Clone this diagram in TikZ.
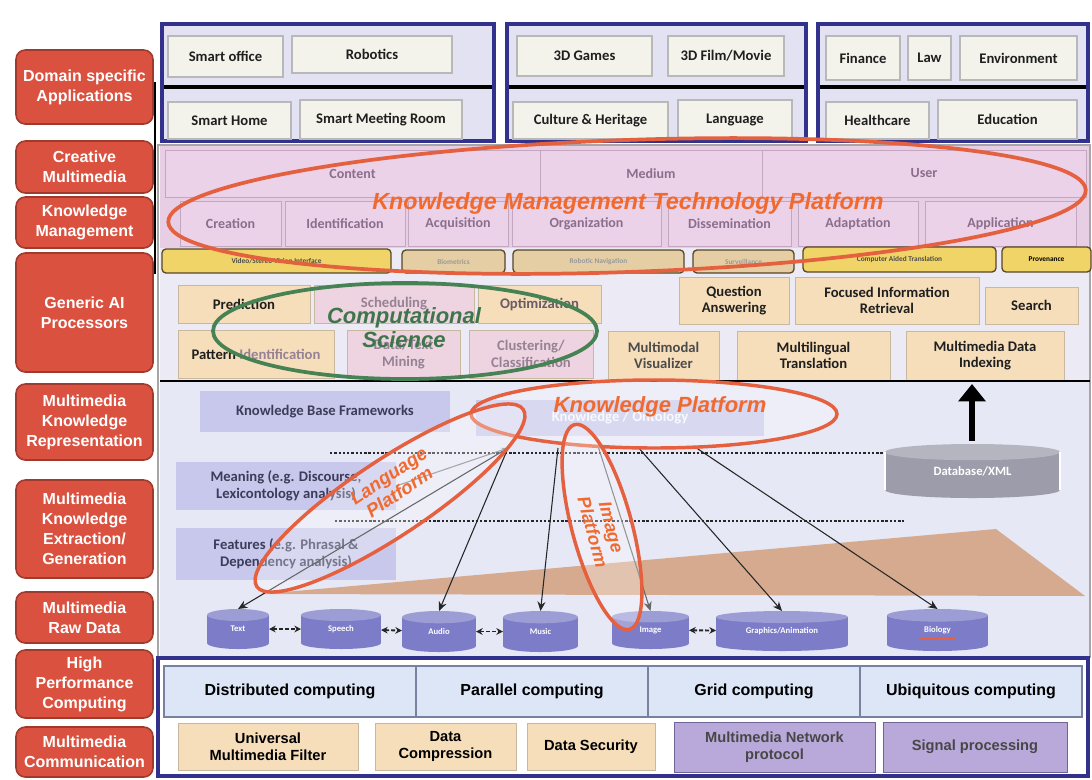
\documentclass[tikz,border=0pt]{standalone}
\usepackage{fontspec}
\setmainfont{Carlito}
\newfontfamily\arialf{Liberation Sans}
\usetikzlibrary{arrows.meta,calc}

\definecolor{labred}{RGB}{218,81,63}
\definecolor{labedge}{RGB}{160,58,44}
\definecolor{navy}{RGB}{50,50,140}
\definecolor{lav}{RGB}{226,226,242}
\definecolor{appfill}{RGB}{243,243,236}
\definecolor{appedge}{RGB}{184,184,184}
\definecolor{pinkbg}{RGB}{232,206,228}
\definecolor{pinkfill}{RGB}{236,210,232}
\definecolor{pinkedge}{RGB}{196,166,192}
\definecolor{kmtext}{RGB}{140,110,140}
\definecolor{tagyel}{RGB}{240,212,104}
\definecolor{tagtan}{RGB}{230,206,164}
\definecolor{tagedge}{RGB}{90,70,40}
\definecolor{aibg}{RGB}{236,234,244}
\definecolor{aicream}{RGB}{246,222,186}
\definecolor{aiedge}{RGB}{200,184,160}
\definecolor{aipinkf}{RGB}{238,212,224}
\definecolor{aifade}{RGB}{150,130,148}
\definecolor{krbg}{RGB}{230,232,246}
\definecolor{kbfill}{RGB}{200,200,236}
\definecolor{kbtext}{RGB}{60,60,90}
\definecolor{ontofill}{RGB}{140,140,208}
\definecolor{tri}{RGB}{212,160,124}
\definecolor{drumc}{RGB}{124,124,200}
\definecolor{dbc}{RGB}{156,156,170}
\definecolor{hpcfill}{RGB}{220,230,247}
\definecolor{hpcedge}{RGB}{120,130,160}
\definecolor{purplef}{RGB}{185,169,218}
\definecolor{purplee}{RGB}{110,100,150}
\definecolor{plred}{RGB}{228,96,63}
\definecolor{plorange}{RGB}{240,106,48}
\definecolor{csgreen}{RGB}{70,130,84}

% box given by its corners: style, name, x1, y1, x2, y2, text
\newcommand\cell[7]{\node[#1, minimum width={(#5-#3)*0.75pt}, minimum height={(#6-#4)*0.75pt}] (#2) at ({(#3+#5)/2},{(#4+#6)/2}) {#7};}

% drum (cylinder) given by its corners: colour, name, x1, y1, x2, y2, text
\newcommand\drum[7]{%
  \pgfmathsetmacro\dcx{(#3+#5)/2}%
  \pgfmathsetmacro\drx{(#5-#3)/2}%
  \pgfmathsetmacro\dey{(#6-#4)*0.15}%
  \fill[#1] (#3,#4+\dey) rectangle (#5,#6-\dey);
  \fill[#1] (\dcx,#6-\dey) ellipse [x radius=\drx, y radius=\dey];
  \fill[#1!75!white] (\dcx,#4+\dey) ellipse [x radius=\drx, y radius=\dey];
  \node[base, minimum width={(#5-#3)*0.75pt}, minimum height={(#6-#4)*0.75pt}, text=white, font=\bfseries\fontsize{6.5}{7}\selectfont] (#2) at (\dcx,{(#4+#6)/2}) {\raisebox{-3pt}{#7}};
}

\begin{document}
\begin{tikzpicture}[x=0.75pt,y=-0.75pt,
  base/.style={inner sep=1pt, outer sep=0pt, align=center},
  lab/.style={base, rounded corners=7pt, fill=labred, draw=labedge, line width=1.2pt, text=white,
    font=\arialf\bfseries\fontsize{12}{15}\selectfont},
  appbox/.style={base, fill=appfill, draw=appedge, line width=0.8pt, text=black!88,
    font=\bfseries\fontsize{11}{12}\selectfont},
  pinkcell/.style={base, fill=pinkfill, draw=pinkedge, line width=0.7pt, text=kmtext,
    font=\bfseries\fontsize{10.5}{12}\selectfont},
  tagy/.style={base, rounded corners=3pt, fill=tagyel, draw=tagedge, line width=1pt, text=black!70,
    font=\bfseries\fontsize{5.5}{6}\selectfont},
  tagt/.style={tagy, fill=tagtan, text=black!40},
  aibox/.style={base, fill=aicream, draw=aiedge, line width=0.6pt, text=black!88,
    font=\bfseries\fontsize{11}{12.5}\selectfont},
  aipink/.style={aibox, fill=aipinkf, text=aifade},
  kbbox/.style={base, fill=kbfill, text=kbtext, font=\bfseries\fontsize{11}{13}\selectfont},
  hpc/.style={base, fill=hpcfill, draw=hpcedge, line width=0.8pt,
    font=\arialf\bfseries\fontsize{12}{13}\selectfont},
  comm/.style={base, fill=aicream, draw=aiedge, line width=0.6pt,
    font=\arialf\bfseries\fontsize{11}{12.5}\selectfont},
  commp/.style={comm, fill=purplef, draw=purplee, text=black!72},
  navyframe/.style={draw=navy, line width=3.6pt, fill=lav},
  platform/.style={draw=plred, line width=2.6pt},
  pltext/.style={base, text=plorange, font=\arialf\bfseries\itshape\fontsize{14}{15}\selectfont},
  feed/.style={-{Stealth[length=7pt,width=6pt]}, line width=0.8pt, black!85},
  pair/.style={{Stealth[length=5pt,width=5pt]}-{Stealth[length=5pt,width=5pt]}, line width=1.4pt,
    dash pattern=on 3pt off 1.5pt, black!85},
  dotrule/.style={line width=1.8pt, dash pattern=on 1.8pt off 1.4pt, black!85}
]
\useasboundingbox (0,0) rectangle (1092,779);
\fill[white] (0,0) rectangle (1092,779);

% ---------- layer backgrounds ----------
\fill[pinkbg] (160,145) rectangle (1090,248);
\fill[aibg] (160,248) rectangle (1090,381);
\fill[krbg] (160,381) rectangle (1090,657);
\draw[gray!70, line width=1pt] (158,145) rectangle (1090,657);
\draw[black, line width=1.6pt] (155,82) -- (155,274);

% ---------- layer labels ----------
\cell{lab}{l1}{16}{50}{153}{124}{Domain specific\\Applications}
\cell{lab}{l2}{16}{141}{153}{193}{Creative\\Multimedia}
\cell{lab}{l3}{16}{197}{153}{248}{Knowledge\\Management}
\cell{lab}{l4}{16}{253}{153}{372}{Generic AI\\Processors}
\cell{lab}{l5}{16}{384}{153}{460}{Multimedia\\Knowledge\\Representation}
\cell{lab}{l6}{16}{480}{153}{578}{Multimedia\\Knowledge\\Extraction/\\Generation}
\cell{lab}{l7}{16}{592}{153}{643}{Multimedia\\Raw Data}
\cell{lab}{l8}{16}{650}{153}{718}{High\\Performance\\Computing}
\cell{lab}{l9}{16}{727}{153}{777}{Multimedia\\Communication}

% ---------- domain specific applications ----------
\filldraw[navyframe] (162,24) rectangle (494,141);
\filldraw[navyframe] (507,24) rectangle (806,141);
\filldraw[navyframe] (818,24) rectangle (1088,141);
\draw[black, line width=3.6pt] (164,87) -- (492,87);
\draw[black, line width=3.6pt] (509,87) -- (804,87);
\draw[black, line width=3.6pt] (820,87) -- (1086,87);

\cell{appbox}{a1}{168}{36}{283}{77}{Smart office}
\cell{appbox}{a2}{292}{36}{452}{73}{Robotics}
\cell{appbox}{a3}{168}{102}{291}{139}{Smart Home}
\cell{appbox}{a4}{300}{100}{462}{139}{Smart Meeting Room}
\cell{appbox}{a5}{517}{36}{652}{76}{3D Games}
\cell{appbox}{a6}{668}{36}{784}{76}{3D Film/Movie}
\cell{appbox}{a7}{513}{102}{668}{139}{Culture \& Heritage}
\cell{appbox}{a8}{678}{100}{792}{139}{Language}
\cell{appbox}{a9}{826}{36}{900}{80}{Finance}
\cell{appbox}{a10}{908}{36}{951}{80}{Law}
\cell{appbox}{a11}{960}{36}{1077}{80}{Environment}
\cell{appbox}{a12}{826}{102}{929}{139}{Healthcare}
\cell{appbox}{a13}{938}{100}{1077}{139}{Education}

% ---------- creative multimedia / knowledge management ----------
\cell{pinkcell}{c1}{165}{150}{540}{197}{Content}
\cell{pinkcell}{c2}{540}{150}{762}{197}{Medium}
\cell{pinkcell}{c3}{762}{150}{1086}{197}{User}
\cell{pinkcell}{m1}{180}{201}{281}{246}{Creation}
\cell{pinkcell}{m2}{285}{201}{405}{246}{Identification}
\cell{pinkcell}{m3}{408}{201}{508}{246}{Acquisition}
\cell{pinkcell}{m4}{512}{201}{661}{246}{Organization}
\cell{pinkcell}{m5}{668}{201}{791}{246}{Dissemination}
\cell{pinkcell}{m6}{798}{201}{918}{246}{Adaptation}
\cell{pinkcell}{m7}{925}{201}{1076}{246}{Application}

% ---------- generic AI processors ----------
\cell{tagy}{t1}{162}{249}{391}{273}{Video/Stereo Vision Interface}
\cell{tagt}{t2}{402}{250}{505}{273}{Biometrics}
\cell{tagt}{t3}{513}{250}{684}{273}{Robotic Navigation}
\cell{tagt}{t4}{693}{250}{794}{273}{Surveillance}
\cell{tagy}{t5}{803}{247}{996}{272}{Computer Aided Translation}
\cell{tagy}{t6}{1002}{247}{1091}{272}{\textcolor{black}{Provenance}}

\cell{aibox}{p1}{178}{285}{310}{323}{Prediction}
\cell{aipink}{p2}{314}{285}{474}{323}{Scheduling}
\cell{aibox}{p3}{478}{285}{601}{323}{\textcolor{aifade!70!black}{Optimization}}
\cell{aibox}{p4}{178}{330}{334}{378}{Pattern \textcolor{aifade}{Identification}}
\cell{aipink}{p5}{347}{330}{460}{378}{Data/Text\\Mining}
\cell{aipink}{p6}{469}{330}{593}{378}{Clustering/\\Classification}
\cell{aibox}{q1}{679}{277}{789}{324}{Question\\Answering}
\cell{aibox}{q2}{795}{277}{979}{324}{Focused Information\\Retrieval}
\cell{aibox}{q3}{985}{287}{1078}{324}{Search}
\cell{aibox}{v1}{608}{331}{719}{380}{\textcolor{black!70}{Multimodal}\\\textcolor{black!70}{Visualizer}}
\cell{aibox}{v2}{737}{331}{890}{380}{Multilingual\\Translation}
\cell{aibox}{v3}{906}{331}{1064}{380}{Multimedia Data\\Indexing}
\draw[black, line width=2pt] (160,381) -- (1090,381);

% ---------- knowledge representation / extraction ----------
\fill[tri, opacity=0.85] (262,594) -- (996,529) -- (1085,596) -- cycle;
\cell{kbbox}{kb}{200}{391}{450}{432}{Knowledge Base Frameworks}
\cell{kbbox}{mean}{176}{462}{396}{510}{Meaning (e.g. Discourse,\\Lexicontology analysis)}
\cell{kbbox}{feat}{176}{528}{396}{580}{Features (e.g. Phrasal \&\\Dependency analysis)}
\cell{kbbox}{onto}{476}{400}{764}{436}{\textcolor{white!85!kbfill}{Knowledge / Ontology}}
\draw[dotrule] (330,453) -- (894,453);
\draw[dotrule] (335,521) -- (904,521);

% database feeding the indexing processor
\drum{dbc}{db}{885}{444}{1060}{498}{\fontsize{9.5}{10}\selectfont Database/XML}
\draw[white, line width=1.2pt] (885,452) -- (885,490) (1060,452) -- (1060,490);
\draw[black, line width=5pt, -{Triangle[length=13pt,width=20pt]}] (972,441) -- (972,384);

% raw data stores
\drum{drumc}{r1}{207}{609}{269}{649}{Text}
\drum{drumc}{r2}{301}{609}{381}{649}{Speech}
\drum{drumc}{r3}{402}{611}{476}{652}{Audio}
\drum{drumc}{r4}{503}{611}{578}{652}{Music}
\drum{drumc}{r5}{612}{611}{689}{649}{Image}
\drum{drumc}{r6}{716}{611}{848}{651}{Graphics/Animation}
\drum{drumc}{r7}{887}{609}{988}{651}{Biology}
\draw[plred, line width=1.2pt] (920,638) -- (956,638);

\draw[pair] (r1) -- (r2);
\draw[pair] (r2) -- (r3);
\draw[pair] (r3) -- (r4);
\draw[pair] (r5) -- (r6);

% links from the ontology down to the raw data
\coordinate (k1) at (508,448);
\coordinate (k2) at (558,448);
\coordinate (k3) at (598,446);
\coordinate (k4) at (637,446);
\coordinate (k5) at (695,447);
\draw[feed] (k1) -- (r1.north);
\draw[feed] (k1) -- (r3.north);
\draw[feed] (k2) -- (r4.north);
\draw[feed, black!60] (k3) -- (r5.north);
\draw[feed] (k4) -- (r6.north);
\draw[feed] (k5) -- (r7.north);
\draw[-{Stealth[length=5pt]}, gray, line width=0.8pt] (mean.east) -- (k1);

% ---------- high performance computing / communication ----------
\filldraw[navyframe, fill=white] (158,658) rectangle (1088,776);
\cell{hpc}{h1}{164}{666}{416}{717}{Distributed computing}
\cell{hpc}{h2}{416}{666}{648}{717}{Parallel computing}
\cell{hpc}{h3}{648}{666}{860}{717}{Grid computing}
\cell{hpc}{h4}{860}{666}{1082}{717}{Ubiquitous computing}
\cell{comm}{n1}{178}{723}{358}{770}{Universal\\Multimedia Filter}
\cell{comm}{n2}{375}{723}{516}{770}{Data\\Compression}
\cell{comm}{n3}{527}{723}{655}{770}{Data Security}
\cell{commp}{n4}{674}{722}{875}{772}{Multimedia Network\\protocol}
\cell{commp}{n5}{883}{722}{1067}{772}{Signal processing}

% ---------- platforms ----------
\draw[platform, line width=2.8pt, rotate around={2:(627,206)}] (627,206) ellipse [x radius=459, y radius=66];
\node[pltext, font=\arialf\bfseries\itshape\fontsize{17.5}{19}\selectfont] (kmtp) at (628,203) {Knowledge Management Technology Platform};

\draw[csgreen, line width=2.8pt] (405,331) ellipse [x radius=192, y radius=48];
\node[base, text=csgreen!90!black, font=\arialf\bfseries\itshape\fontsize{16.5}{18}\selectfont] (cs) at (404,328) {Computational\\Science};

\filldraw[platform, fill=white, fill opacity=0.3] (654,414) ellipse [x radius=183, y radius=34];
\node[pltext, font=\arialf\bfseries\itshape\fontsize{16.5}{18}\selectfont] (kp) at (660,407) {Knowledge Platform};

\filldraw[platform, fill=white, fill opacity=0.3, rotate around={33.6:(390,498)}] (390,498) ellipse [x radius=160, y radius=38];
\node[pltext, rotate=33.6] (lp) at (394,484) {Language\\Platform};

\filldraw[platform, fill=white, fill opacity=0.3, rotate around={-75:(602,527)}] (602,527) ellipse [x radius=106, y radius=30];
\node[pltext, rotate=-75, font=\arialf\bfseries\itshape\fontsize{13.5}{14.5}\selectfont] (ip) at (602,530) {Image\\Platform};
\end{tikzpicture}
\end{document}
